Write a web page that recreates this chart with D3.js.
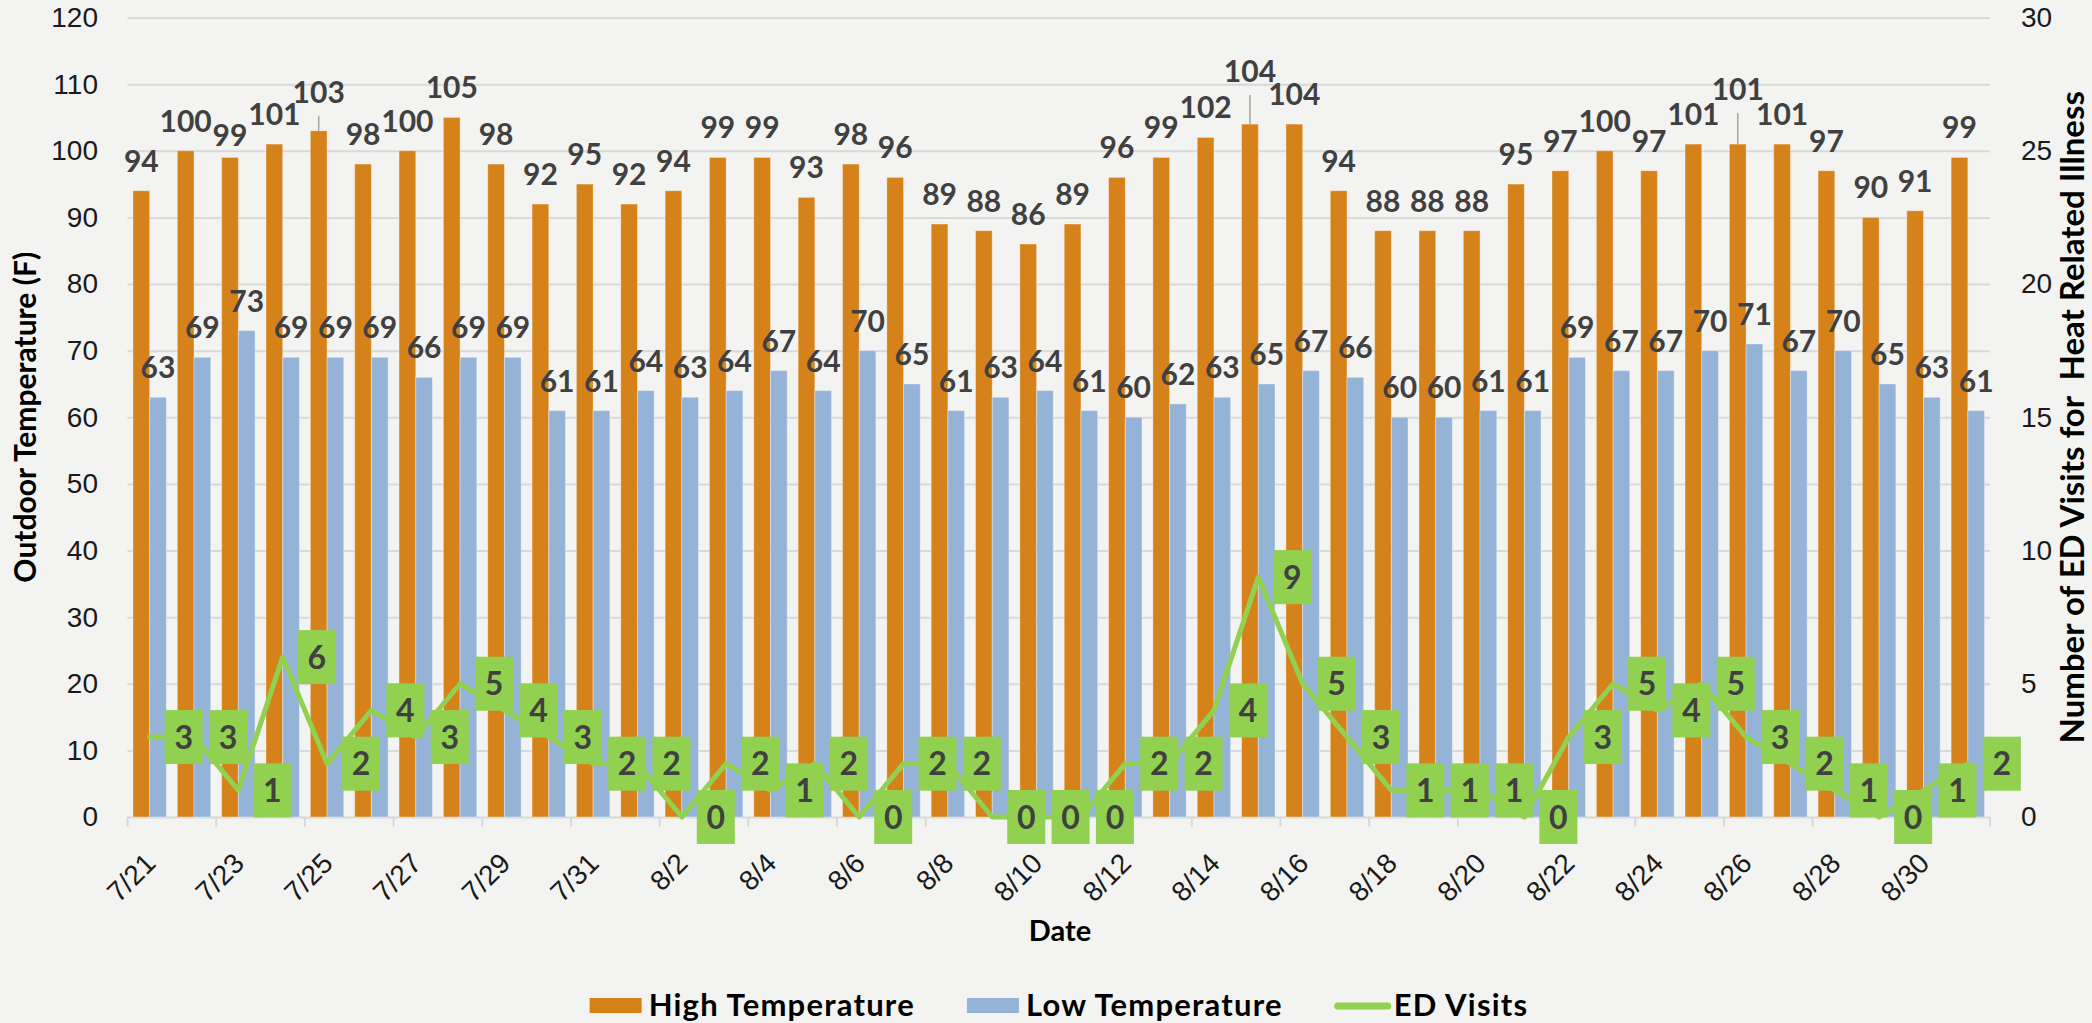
<!DOCTYPE html>
<html lang="en">
<head>
<meta charset="utf-8">
<title>Outdoor temperature and ED visits for heat related illness</title>
<script src="https://cdn.jsdelivr.net/npm/d3@7"></script>
<style>
  body { margin: 0; background: #f3f3f1; }
  svg { display: block; font-family: Lato, "Open Sans", sans-serif; }
</style>
</head>
<body>
<script>
// one category per day
var dates = ["7/21","7/22","7/23","7/24","7/25","7/26","7/27","7/28","7/29","7/30","7/31",
  "8/1","8/2","8/3","8/4","8/5","8/6","8/7","8/8","8/9","8/10","8/11","8/12","8/13","8/14",
  "8/15","8/16","8/17","8/18","8/19","8/20","8/21","8/22","8/23","8/24","8/25","8/26","8/27",
  "8/28","8/29","8/30","8/31"];

var highTemps = [94,100,99,101,103,98,100,105,98,92,95,92,94,99,99,93,98,96,89,88,86,
  89,96,99,102,104,104,94,88,88,88,95,97,100,97,101,101,101,97,90,91,99];

var lowTemps = [63,69,73,69,69,69,66,69,69,61,61,64,63,64,67,64,70,65,61,63,64,
  61,60,62,63,65,67,66,60,60,61,61,69,67,67,70,71,67,70,65,63,61];

var edVisits = [3,3,1,6,2,4,3,5,4,3,2,2,0,2,1,2,0,2,2,0,0,
  0,2,2,4,9,5,3,1,1,1,0,3,5,4,5,3,2,1,0,1,2];

var leftTicks = [0,10,20,30,40,50,60,70,80,90,100,110,120];
var rightTicks = [0,5,10,15,20,25,30];

// a few high-temp labels were dragged by hand in the original (px, + is down)
var highLabelShift = {"7/23": 8, "7/25": -9, "8/15": -23, "8/26": -25};

var W = 2092, H = 1023;
var plot = {left: 127.5, right: 1990, top: 17.5, bottom: 817};

var orange = "#d6821a", blue = "#95b3d7", green = "#92d050",
    grid = "#d9d9d9", labelInk = "#404040";

var svg = d3.select("body").append("svg")
  .attr("width", W)
  .attr("height", H);

svg.append("rect")
  .attr("width", W)
  .attr("height", H)
  .attr("fill", "#f3f3f1");

var x = d3.scaleBand().domain(dates).range([plot.left, plot.right]);
var xs = d3.scaleBand().domain(["high", "low"])
  .range([0, x.bandwidth()])
  .paddingOuter(0.327);
var y = d3.scaleLinear().domain([0, 120]).range([plot.bottom, plot.top]);
var y2 = d3.scaleLinear().domain([0, 30]).range([plot.bottom, plot.top]);

//left axis + gridlines
var leftAxis = svg.append("g")
  .attr("transform", "translate(" + plot.left + ",0)")
  .call(d3.axisLeft(y)
    .tickValues(leftTicks)
    .tickSizeInner(-(plot.right - plot.left))
    .tickSizeOuter(0)
    .tickPadding(29.5));
leftAxis.select(".domain").remove();
leftAxis.selectAll("line").attr("stroke", grid).attr("stroke-width", 2);
leftAxis.selectAll("text")
  .attr("font-size", 28)
  .attr("fill", "#1a1a1a");

//right axis (labels only)
var rightAxis = svg.append("g")
  .attr("transform", "translate(" + plot.right + ",0)")
  .call(d3.axisRight(y2)
    .tickValues(rightTicks)
    .tickSize(0)
    .tickPadding(31));
rightAxis.select(".domain").remove();
rightAxis.selectAll("text")
  .attr("font-size", 28)
  .attr("fill", "#1a1a1a");

//x axis: tick marks between every second day
var tickIdx = d3.range(0, dates.length + 1, 2);
svg.append("g").selectAll("line")
  .data(tickIdx)
  .enter()
  .append("line")
  .attr("x1", function(i) { return i < dates.length ? x(dates[i]) : plot.right; })
  .attr("x2", function(i) { return i < dates.length ? x(dates[i]) : plot.right; })
  .attr("y1", plot.bottom)
  .attr("y2", plot.bottom + 10)
  .attr("stroke", grid)
  .attr("stroke-width", 2);

var bottomAxis = svg.append("g")
  .attr("transform", "translate(0," + plot.bottom + ")")
  .call(d3.axisBottom(x)
    .tickValues(dates.filter(function(d, i) { return i % 2 === 0; }))
    .tickSize(0));
bottomAxis.select(".domain").remove();
bottomAxis.selectAll("text")
  .attr("x", 0)
  .attr("y", 0)
  .attr("dy", 0)
  .attr("text-anchor", "end")
  .attr("transform", "translate(7.5,48) rotate(-45)")
  .attr("font-size", 28)
  .attr("fill", "#1a1a1a");

//bars
var days = dates.map(function(d, i) {
  return {date: d, high: highTemps[i], low: lowTemps[i], ed: edVisits[i]};
});

function drawBars(key, color) {
  svg.append("g").selectAll("rect")
    .data(days)
    .enter()
    .append("rect")
    .attr("x", function(d) { return x(d.date) + xs(key); })
    .attr("width", xs.bandwidth())
    .attr("y", function(d) { return y(d[key]); })
    .attr("height", function(d) { return plot.bottom - y(d[key]); })
    .attr("fill", color)
    .attr("stroke", "rgba(255,255,255,0.35)")
    .attr("stroke-width", 1);
}
drawBars("high", orange);
drawBars("low", blue);

//bar labels
function shiftOf(d, key) {
  return key === "high" ? (highLabelShift[d.date] || 0) : 0;
}

["high", "low"].forEach(function(key) {
  var g = svg.append("g");
  var cx = function(d) { return x(d.date) + xs(key) + xs.bandwidth() / 2; };

  g.selectAll("line")
    .data(days.filter(function(d) { return shiftOf(d, key) < -5; }))
    .enter()
    .append("line")
    .attr("x1", cx)
    .attr("x2", cx)
    .attr("y1", function(d) { return y(d[key]) - 19 + shiftOf(d, key) + 13; })
    .attr("y2", function(d) { return y(d[key]); })
    .attr("stroke", "#a6a6a6")
    .attr("stroke-width", 1.5);

  g.selectAll("text")
    .data(days)
    .enter()
    .append("text")
    .attr("x", cx)
    .attr("y", function(d) { return y(d[key]) - 19 + shiftOf(d, key); })
    .attr("text-anchor", "middle")
    .attr("font-size", 30)
    .attr("font-weight", "bold")
    .attr("fill", labelInk)
    .text(function(d) { return d[key]; });
});

//ED visits line
var line = d3.line()
  .x(function(d) { return x(d.date) + x.bandwidth() / 2; })
  .y(function(d) { return y2(d.ed); });

svg.append("path")
  .datum(days)
  .attr("d", line)
  .attr("fill", "none")
  .attr("stroke", green)
  .attr("stroke-width", 5)
  .attr("stroke-linejoin", "round")
  .attr("stroke-linecap", "round");

//ED labels, boxed, to the right of each point
var edLab = svg.append("g").selectAll("g")
  .data(days)
  .enter()
  .append("g")
  .attr("transform", function(d) {
    return "translate(" + (x(d.date) + x.bandwidth() / 2 + 34) + "," + y2(d.ed) + ")";
  });
edLab.append("rect")
  .attr("x", -19)
  .attr("y", -27)
  .attr("width", 38)
  .attr("height", 54)
  .attr("fill", green);
edLab.append("text")
  .attr("y", 11.5)
  .attr("text-anchor", "middle")
  .attr("font-size", 32)
  .attr("font-weight", "bold")
  .attr("fill", labelInk)
  .text(function(d) { return d.ed; });

//axis titles
var midY = (plot.top + plot.bottom) / 2;
svg.append("text")
  .attr("transform", "translate(36," + midY + ") rotate(-90)")
  .attr("text-anchor", "middle")
  .attr("font-size", 30)
  .attr("font-weight", "bold")
  .text("Outdoor Temperature (F)");

svg.append("text")
  .attr("transform", "translate(2084," + midY + ") rotate(-90)")
  .attr("text-anchor", "middle")
  .attr("font-size", 33)
  .attr("font-weight", "bold")
  .style("white-space", "pre")
  .text("Number of ED Visits for  Heat Related Illness");

svg.append("text")
  .attr("x", 1060)
  .attr("y", 941)
  .attr("text-anchor", "middle")
  .attr("font-size", 29)
  .attr("font-weight", "bold")
  .text("Date");

//legend
var legendItems = [
  {name: "High Temperature", color: orange, type: "rect"},
  {name: "Low Temperature", color: blue, type: "rect"},
  {name: "ED Visits", color: green, type: "line"}
];

var legend = svg.append("g");
var lx = 0;
legendItems.forEach(function(item, i) {
  var g = legend.append("g").attr("transform", "translate(" + lx + ",0)");
  if (item.type === "rect") {
    g.append("rect")
      .attr("x", 0).attr("y", -8)
      .attr("width", 52).attr("height", 15)
      .attr("fill", item.color);
  } else {
    g.append("line")
      .attr("x1", 3).attr("x2", 53)
      .attr("y1", 0).attr("y2", 0)
      .attr("stroke", item.color)
      .attr("stroke-width", 7)
      .attr("stroke-linecap", "round");
  }
  var t = g.append("text")
    .attr("x", 59)
    .attr("y", 10)
    .attr("font-size", 31)
    .attr("font-weight", "bold")
    .attr("letter-spacing", 1.2)
    .attr("fill", "#000")
    .text(item.name);
  lx += 59 + t.node().getComputedTextLength() + 52;
});
var legendW = lx - 52;
legend.attr("transform", "translate(" + (1059 - legendW / 2) + ",1006)");
</script>
</body>
</html>
